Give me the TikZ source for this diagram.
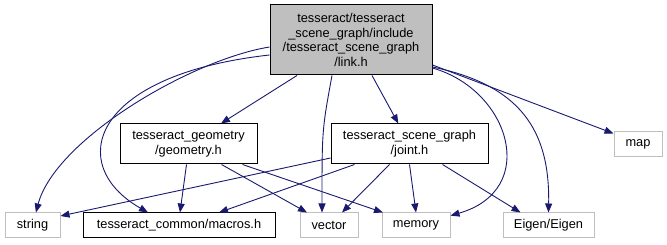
\documentclass[tikz,border=0pt]{standalone}
\usepackage{fontspec}
\setmainfont{Liberation Sans}
\usetikzlibrary{arrows.meta}
\definecolor{edgeblue}{HTML}{191970}
\definecolor{extgray}{HTML}{BFBFBF}
\begin{document}
\begin{tikzpicture}[x=1pt,y=-1pt,
  every node/.style={font=\fontsize{12.8}{14.8}\selectfont, align=center, inner sep=0pt, line width=1pt},
  filebox/.style={draw=black, minimum height=40pt},
  extbox/.style={draw=extgray, minimum height=25pt},
  rootbox/.style={draw=black, fill=extgray, minimum width=162pt, minimum height=70pt},
  dep/.style={draw=edgeblue, line width=0.9pt, -{Triangle[length=9pt,width=7pt]}}]
\useasboundingbox (0,0) rectangle (667,245);

% files
\node[rootbox] (root) at (351,40) {tesseract/tesseract\\\_scene\_graph/include\\/tesseract\_scene\_graph\\/link.h};
\node[filebox, minimum width=137pt] (geo) at (188.5,144) {tesseract\_geometry\\/geometry.h};
\node[filebox, minimum width=157pt] (joint) at (409.5,144) {tesseract\_scene\_graph\\/joint.h};
\node[draw=black, minimum width=192pt, minimum height=25pt] (macros) at (179,225.5) {tesseract\_common/macros.h};

% external headers
\node[extbox, minimum width=55pt] (string) at (32.5,225.5) {string};
\node[extbox, minimum width=58pt] (vector) at (329,225.5) {vector};
\node[extbox, minimum width=68pt] (memory) at (416,225.5) {memory};
\node[extbox, minimum width=91pt] (eigen) at (548.5,225.5) {Eigen/Eigen};
\node[extbox, minimum width=48pt] (map) at (638,144.5) {map};

% link.h includes
\draw[dep] ([xshift=-54pt]root.south) -- (geo);
\draw[dep] ([xshift=21pt]root.south) -- (joint);
\draw[dep] ([yshift=-7pt]root.west) .. controls (190,60) and (55,140) .. (string);
\draw[dep] ([yshift=-15pt]root.west) .. controls (90,75) and (65,165) .. ([xshift=-31pt]macros.north);
\draw[dep] ([xshift=-19pt]root.south) .. controls (322,130) .. ([xshift=-7pt]vector.north);
\draw[dep] ([yshift=-28pt]root.east) .. controls (510,90) and (540,190) .. (memory);
\draw[dep] ([yshift=-27pt]root.east) .. controls (520,85) and (550,130) .. (eigen.north);
\draw[dep] ([yshift=-25pt]root.east) -- ([yshift=11pt]map.west);

% geometry.h includes
\draw[dep] ([xshift=-2pt]geo.south) -- ([xshift=1pt]macros.north);
\draw[dep] ([xshift=33pt]geo.south) -- ([xshift=-22pt]vector.north);
\draw[dep] ([xshift=54pt]geo.south) -- ([xshift=-33pt]memory.north);

% joint.h includes
\draw[dep] ([yshift=-14pt]joint.west) -- ([yshift=9.5pt]string.east);
\draw[dep] ([xshift=-55pt]joint.south) -- ([xshift=40pt]macros.north);
\draw[dep] ([xshift=-20pt]joint.south) -- ([xshift=13pt]vector.north);
\draw[dep] (joint.south) -- (memory.north);
\draw[dep] ([xshift=33pt]joint.south) -- ([xshift=-28pt]eigen.north);
\end{tikzpicture}
\end{document}
